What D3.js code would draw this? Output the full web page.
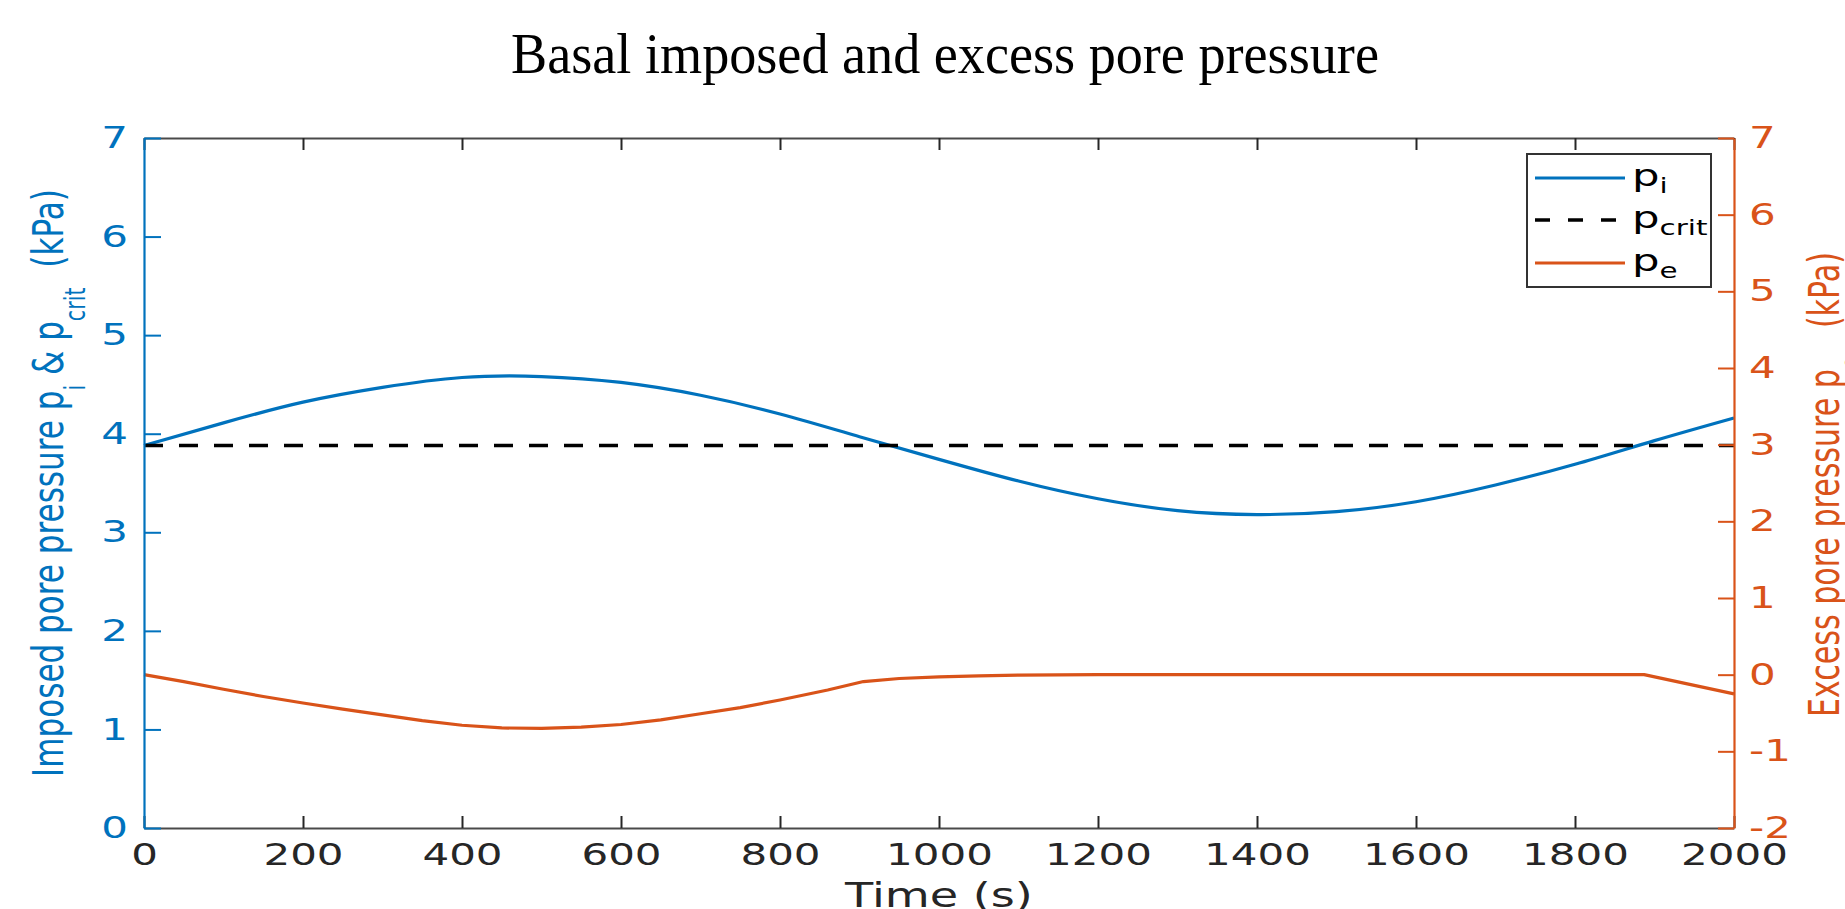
<!DOCTYPE html>
<html>
<head>
<meta charset="utf-8">
<script src="https://cdn.jsdelivr.net/npm/d3@7"></script>
<style>
  html, body { margin: 0; padding: 0; background: #fff; }
  svg { display: block; }
</style>
</head>
<body>
<div id="chart"></div>
<script>
// tick values
const timeTicks = [0, 200, 400, 600, 800, 1000, 1200, 1400, 1600, 1800, 2000];
const leftTicks = [0, 1, 2, 3, 4, 5, 6, 7];
const rightTicks = [-2, -1, 0, 1, 2, 3, 4, 5, 6, 7];

const piTime = [0, 100, 200, 300, 400, 500, 600, 700, 800, 900, 1000,
  1100, 1200, 1300, 1400, 1500, 1600, 1700, 1800, 1900, 2000];
const piValues = [3.88, 4.11, 4.32, 4.47, 4.57, 4.58, 4.52, 4.39, 4.20, 3.97, 3.74,
  3.52, 3.34, 3.22, 3.18, 3.21, 3.31, 3.48, 3.69, 3.93, 4.16];

// critical pore pressure p_crit (kPa)
const critTime = [0, 2000];
const critValues = [3.88, 3.88];

// excess pore pressure p_e (kPa)
const peTime = [0, 50, 100, 150, 200, 250, 300, 350, 400, 450, 500, 550, 600, 650,
  700, 750, 800, 860, 905, 950, 1000, 1050, 1100, 1200, 1500, 1887, 2000];
const peValues = [0, -0.09, -0.19, -0.285, -0.37, -0.45, -0.525, -0.60, -0.66, -0.695,
  -0.70, -0.685, -0.65, -0.59, -0.51, -0.43, -0.33, -0.20, -0.09, -0.05, -0.03,
  -0.015, -0.005, 0, 0, 0, -0.25];

const legendSubs = ['i', 'crit', 'e'];

const width = 1845;
const height = 909;
const margin = {
  top: 138, right: 111, bottom: 81, left: 144,
};
const innerW = width - margin.left - margin.right;
const innerH = height - margin.top - margin.bottom;

const blue = '#0072BD';
const orange = '#D95319';
const grey = '#262626';
const font = "'DejaVu Sans', sans-serif";
const stretch = 1.4; // the figure is stretched sideways

const svg = d3.select('#chart')
  .append('svg')
  .attr('width', width)
  .attr('height', height);

const x = d3.scaleLinear().domain([0, 2000]).range([margin.left, margin.left + innerW]);
const yLeft = d3.scaleLinear().domain([0, 7]).range([margin.top + innerH, margin.top]);
const yRight = d3.scaleLinear().domain([-2, 7]).range([margin.top + innerH, margin.top]);

const lineFor = (yScale, curve) => d3.line()
  .x((d) => x(d[0]))
  .y((d) => yScale(d[1]))
  .curve(curve);

// series
svg.append('path')
  .datum(d3.zip(peTime, peValues))
  .attr('fill', 'none')
  .attr('stroke', orange)
  .attr('stroke-width', 3.2)
  .attr('stroke-linejoin', 'round')
  .attr('d', lineFor(yRight, d3.curveLinear));

svg.append('path')
  .datum(d3.zip(piTime, piValues))
  .attr('fill', 'none')
  .attr('stroke', blue)
  .attr('stroke-width', 3.2)
  .attr('d', lineFor(yLeft, d3.curveNatural));

svg.append('path')
  .datum(d3.zip(critTime, critValues))
  .attr('fill', 'none')
  .attr('stroke', '#000')
  .attr('stroke-width', 3.6)
  .attr('stroke-dasharray', '19,16')
  .attr('d', lineFor(yLeft, d3.curveLinear));

// axes
const styleAxis = (g, color) => {
  g.attr('color', color)
    .attr('font-family', font)
    .attr('font-size', 30);
  g.select('.domain').attr('stroke-width', 2.2);
  g.selectAll('.tick line').attr('stroke-width', 2);
};

const xBottom = svg.append('g')
  .attr('transform', `translate(0,${margin.top + innerH})`)
  .call(d3.axisBottom(x).tickValues(timeTicks)
    .tickSizeInner(-12).tickSizeOuter(0).tickPadding(16)
    .tickFormat((d) => String(d)));
styleAxis(xBottom, grey);
xBottom.select('.domain').attr('stroke', '#4a4a4a');
xBottom.selectAll('.tick text').attr('transform', `scale(${stretch},1)`);

const xTop = svg.append('g')
  .attr('transform', `translate(0,${margin.top})`)
  .call(d3.axisTop(x).tickValues(timeTicks)
    .tickSizeInner(-12).tickSizeOuter(0)
    .tickFormat(() => ''));
styleAxis(xTop, grey);
xTop.select('.domain').attr('stroke', '#4a4a4a');

const yAxisLeft = svg.append('g')
  .attr('transform', `translate(${margin.left},0)`)
  .call(d3.axisLeft(yLeft).tickValues(leftTicks)
    .tickSizeInner(-17).tickSizeOuter(0).tickPadding(16 / stretch)
    .tickFormat((d) => String(d)));
styleAxis(yAxisLeft, blue);
yAxisLeft.selectAll('.tick text').attr('transform', `scale(${stretch},1)`);

const yAxisRight = svg.append('g')
  .attr('transform', `translate(${margin.left + innerW},0)`)
  .call(d3.axisRight(yRight).tickValues(rightTicks)
    .tickSizeInner(-16).tickSizeOuter(0).tickPadding(15 / stretch)
    .tickFormat((d) => String(d)));
styleAxis(yAxisRight, orange);
yAxisRight.selectAll('.tick text').attr('transform', `scale(${stretch},1)`);

// title
const title = svg.append('text')
  .attr('font-family', "'Liberation Serif', 'Times New Roman', serif")
  .attr('font-size', 57)
  .attr('text-anchor', 'middle')
  .attr('fill', '#000')
  .text('Basal imposed and excess pore pressure');
const titleScale = 868 / title.node().getComputedTextLength();
title.attr('transform', `translate(945,73) scale(${titleScale},1)`);

// x label
svg.append('text')
  .attr('font-family', font)
  .attr('font-size', 33)
  .attr('text-anchor', 'middle')
  .attr('fill', grey)
  .attr('transform', `translate(${margin.left + innerW / 2},907) scale(${stretch},1)`)
  .text('Time (s)');

// y labels, built from tspans so the subscripts sit low
const addYLabel = (parts, color, px, py, span) => {
  const label = svg.append('text')
    .attr('font-family', font)
    .attr('font-size', 30)
    .attr('text-anchor', 'middle')
    .attr('fill', color)
    .style('white-space', 'pre');
  parts.forEach((p) => {
    label.append('tspan')
      .attr('font-size', p.sub ? 20 : 30)
      .attr('dy', p.sub ? 16 : (p.after ? -16 : 0))
      .text(p.t);
  });
  const len = label.node().getComputedTextLength();
  label.attr('transform', `translate(${px},${py}) rotate(-90) scale(${span / len},${stretch})`);
};

addYLabel([
  { t: 'Imposed pore pressure p' },
  { t: 'i', sub: true },
  { t: ' & p', after: true },
  { t: 'crit', sub: true },
  { t: '  (kPa)', after: true },
], blue, 63, 483, 588);

addYLabel([
  { t: 'Excess pore pressure p' },
  { t: 'e', sub: true },
  { t: '   (kPa)', after: true },
], orange, 1839, 484.5, 465);

// legend
const legendColors = [blue, '#000', orange];
const legendDash = [null, '15,18', null];
const legendRows = [178, 220, 263];

const legend = svg.append('g');
legend.append('rect')
  .attr('x', 1527)
  .attr('y', 154)
  .attr('width', 184)
  .attr('height', 133)
  .attr('fill', '#fff')
  .attr('stroke', '#333')
  .attr('stroke-width', 2);

legendSubs.forEach((sub, i) => {
  legend.append('line')
    .attr('x1', 1535)
    .attr('x2', 1625)
    .attr('y1', legendRows[i])
    .attr('y2', legendRows[i])
    .attr('stroke', legendColors[i])
    .attr('stroke-width', i === 1 ? 3.6 : 3.2)
    .attr('stroke-dasharray', legendDash[i]);

  const t = legend.append('text')
    .attr('font-family', font)
    .attr('font-size', 31)
    .attr('fill', '#000')
    .attr('transform', `translate(1632,${legendRows[i] + 8}) scale(${stretch},1)`);
  t.append('tspan').text('p');
  t.append('tspan').attr('font-size', 21).attr('dy', 7).text(sub);
});
</script>
</body>
</html>
